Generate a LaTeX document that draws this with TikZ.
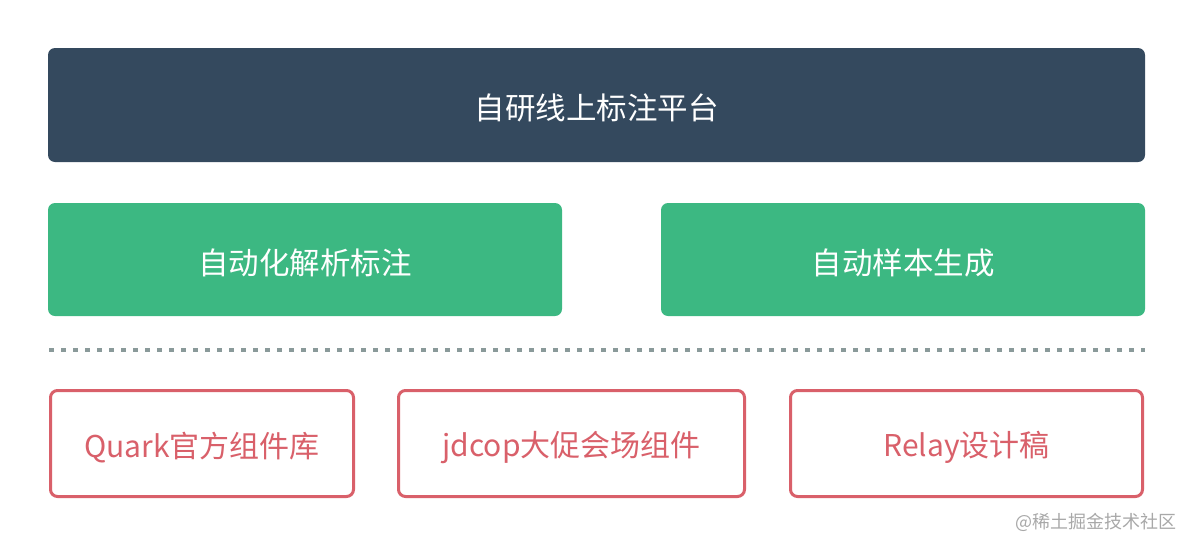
\documentclass[tikz,border=0pt]{standalone}
\usepackage{fontspec}
\setmainfont{Noto Sans CJK SC}
\definecolor{navy}{HTML}{34495E}
\definecolor{grn}{HTML}{3CB882}
\definecolor{rd}{HTML}{D9606A}
\definecolor{dashgray}{HTML}{8A9A9A}
\definecolor{wm}{HTML}{A8A8A8}
\begin{document}
\begin{tikzpicture}[x=1pt,y=-1pt,
  darkbox/.style={fill=navy, rounded corners=7pt, inner sep=0pt},
  greenbox/.style={fill=grn, rounded corners=7pt, inner sep=0pt},
  redbox/.style={draw=rd, line width=3pt, fill=white, rounded corners=7pt, inner sep=0pt},
  whitetext/.style={text=white, font=\fontsize{30.5}{34}\selectfont, inner sep=0pt},
  redtext/.style={text=rd, font=\fontsize{30}{34}\selectfont, inner sep=0pt}]
\useasboundingbox (0,0) rectangle (1194,549);
\node[darkbox, minimum width=1097pt, minimum height=114pt] (top) at (596.5,105) {};
\node[whitetext] (topt) at ([yshift=-3pt]top.center) {自研线上标注平台};
\node[greenbox, minimum width=514pt, minimum height=113pt] (g1) at (305,259.5) {};
\node[whitetext] (g1t) at ([yshift=-3pt]g1.center) {自动化解析标注};
\node[greenbox, minimum width=484pt, minimum height=113pt] (g2) at (903,259.5) {};
\node[whitetext] (g2t) at ([yshift=-3pt]g2.center) {自动样本生成};
\coordinate (dl) at (49,350);
\coordinate (dr) at (1145,350);
\draw[dashgray, line width=3.5pt, dash pattern=on 5pt off 7pt] (dl) -- (dr);
\node[redbox, minimum width=303pt, minimum height=106pt] (r1) at (202,443.5) {};
\node[redtext] (r1t) at ([yshift=-4pt]r1.center) {Quark官方组件库};
\node[redbox, minimum width=346pt, minimum height=106pt] (r2) at (571.5,443.5) {};
\node[redtext] (r2t) at ([yshift=-4pt]r2.center) {jdcop大促会场组件};
\node[redbox, minimum width=352pt, minimum height=106pt] (r3) at (966.5,443.5) {};
\node[redtext] (r3t) at ([yshift=-4pt]r3.center) {Relay设计稿};
\node[text=wm, font=\fontsize{18}{21}\selectfont, anchor=east, inner sep=0pt] (wmk) at (1177,522) {@稀土掘金技术社区};
\end{tikzpicture}
\end{document}
